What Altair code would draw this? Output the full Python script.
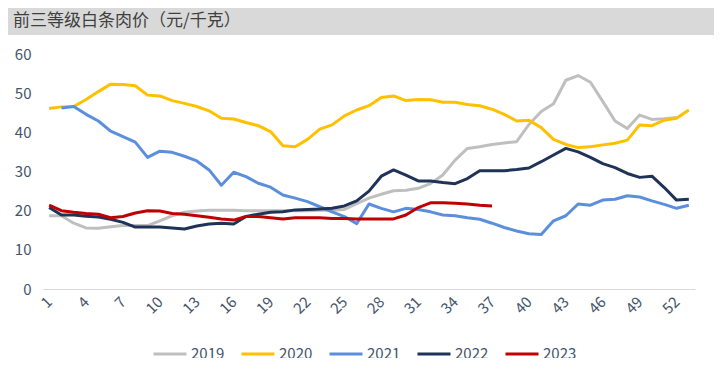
import altair as alt
import pandas as pd

TITLE = "前三等级白条肉价（元/千克）"
YEARS = ["2019", "2020", "2021", "2022", "2023"]
COLORS = ["#BFBFBF", "#FFC000", "#5B8FDE", "#1F3358", "#C00000"]
WIDTHS = [3, 3, 3, 3, 5]
WEEKS = list(range(1, 54))
X_TICKS = list(range(1, 53, 3))

y2019 = [18.7, 18.7, 16.8, 15.6, 15.5, 15.9, 16.2, 16.2, 16.2, 17.4,
         18.7, 19.6, 19.9, 20.1, 20.1, 20.1, 20.0, 20.0, 20.0, 20.0,
         20.0, 20.0, 20.1, 20.1, 20.3, 21.8, 23.2, 24.2, 25.1, 25.2,
         25.7, 26.9, 29.1, 32.9, 35.9, 36.3, 36.9, 37.3, 37.6, 42.0,
         45.3, 47.3, 53.3, 54.5, 52.8, 47.9, 42.9, 41.0, 44.4, 43.3,
         43.5, 43.8, None]
y2020 = [46.1, 46.5, 46.6, 48.4, 50.4, 52.3, 52.2, 51.9, 49.5, 49.3,
         48.1, 47.4, 46.6, 45.5, 43.6, 43.4, 42.5, 41.7, 40.2, 36.6,
         36.3, 38.2, 40.8, 41.9, 44.2, 45.7, 46.8, 48.9, 49.3, 48.1,
         48.4, 48.3, 47.7, 47.7, 47.1, 46.8, 45.9, 44.6, 42.9, 43.1,
         41.2, 38.2, 36.9, 36.1, 36.3, 36.8, 37.2, 38.0, 41.9, 41.7,
         43.1, 43.6, 45.7]
y2021 = [None, 46.2, 46.6, 44.6, 42.9, 40.3, 38.9, 37.5, 33.6, 35.2,
         34.9, 33.9, 32.7, 30.4, 26.5, 29.8, 28.7, 27.0, 26.0, 24.0,
         23.2, 22.3, 21.0, 19.7, 18.5, 16.7, 21.7, 20.6, 19.7, 20.6,
         20.3, 19.7, 18.9, 18.7, 18.2, 17.8, 16.8, 15.7, 14.8, 14.1,
         13.9, 17.4, 18.7, 21.7, 21.4, 22.7, 22.9, 23.8, 23.5, 22.5,
         21.6, 20.6, 21.4]
y2022 = [20.8, 18.9, 18.9, 18.6, 18.4, 17.8, 17.0, 15.8, 15.8, 15.8,
         15.6, 15.3, 16.1, 16.6, 16.8, 16.6, 18.5, 19.1, 19.6, 19.7,
         20.2, 20.3, 20.4, 20.6, 21.2, 22.5, 25.0, 28.8, 30.4, 29.1,
         27.6, 27.6, 27.2, 26.9, 28.2, 30.2, 30.2, 30.2, 30.5, 30.9,
         32.5, 34.2, 35.9, 35.0, 33.6, 32.0, 31.0, 29.5, 28.5, 28.8,
         25.9, 22.7, 22.9]
y2023 = [21.4, 20.0, 19.6, 19.3, 19.1, 18.2, 18.5, 19.4, 20.0, 19.9,
         19.3, 19.1, 18.7, 18.3, 17.9, 17.6, 18.5, 18.5, 18.2, 17.9,
         18.2, 18.2, 18.2, 18.0, 18.0, 17.9, 17.9, 17.9, 17.9, 18.9,
         20.8, 22.0, 22.0, 21.9, 21.7, 21.4, 21.2]

series = dict(zip(YEARS, [y2019, y2020, y2021, y2022, y2023]))
rows = []
for yr, vals in series.items():
    for w, v in zip(WEEKS, vals):
        if v is not None:
            rows.append({"week": w, "year": yr, "price": v})
df = pd.DataFrame(rows)

FONT = "Noto Sans CJK SC"
LABEL_COLOR = "#44546A"

legend_cfg = dict(title=None, orient="none", legendX=109, legendY=282,
                  direction="horizontal", columns=5, symbolType="stroke",
                  symbolSize=1089, labelOffset=3, columnPadding=10,
                  labelFont=FONT, labelFontSize=15, labelColor=LABEL_COLOR,
                  padding=0)

lines = alt.Chart(df).mark_line(strokeJoin="round", strokeCap="butt").encode(
    x=alt.X("week:Q",
            scale=alt.Scale(domain=[0.5, 53.5], nice=False, zero=False),
            axis=alt.Axis(values=X_TICKS, title=None, labelAngle=-45, labelAlign="right",
                          labelBaseline="middle", labelPadding=10, ticks=False, grid=False,
                          domainColor="#D9D9D9", domainWidth=1, labelFont=FONT,
                          labelFontSize=15, labelColor=LABEL_COLOR, labelOverlap=False)),
    y=alt.Y("price:Q",
            scale=alt.Scale(domain=[0, 60], nice=False),
            axis=alt.Axis(values=[0, 10, 20, 30, 40, 50, 60], title=None, ticks=False, grid=False,
                          domain=False, labelPadding=12, labelFont=FONT, labelFontSize=15,
                          labelColor=LABEL_COLOR)),
    color=alt.Color("year:O", scale=alt.Scale(domain=YEARS, range=COLORS),
                    legend=alt.Legend(**legend_cfg)),
    strokeWidth=alt.StrokeWidth("year:O", scale=alt.Scale(domain=YEARS, range=WIDTHS),
                                legend=alt.Legend(**legend_cfg)),
)

tdf = pd.DataFrame({"t": [TITLE]})
band = alt.Chart(tdf).mark_rect(color="#D9D9D9").encode(
    x=alt.value(-35), x2=alt.value(671), y=alt.value(-46), y2=alt.value(-19)
)
title = alt.Chart(tdf).mark_text(align="left", baseline="middle", font=FONT, fontSize=17,
                                 color="#3F3F3F").encode(
    x=alt.value(-30), y=alt.value(-33), text="t:N"
)

chart = alt.layer(band, title, lines).properties(
    width=652, height=235,
    padding={"left": 35, "top": 46, "right": 19, "bottom": 69},
    autosize=alt.AutoSizeParams(type="none"),
).configure_view(stroke=None)

chart.save("out.html", embed_options={"renderer": "svg", "actions": False})
